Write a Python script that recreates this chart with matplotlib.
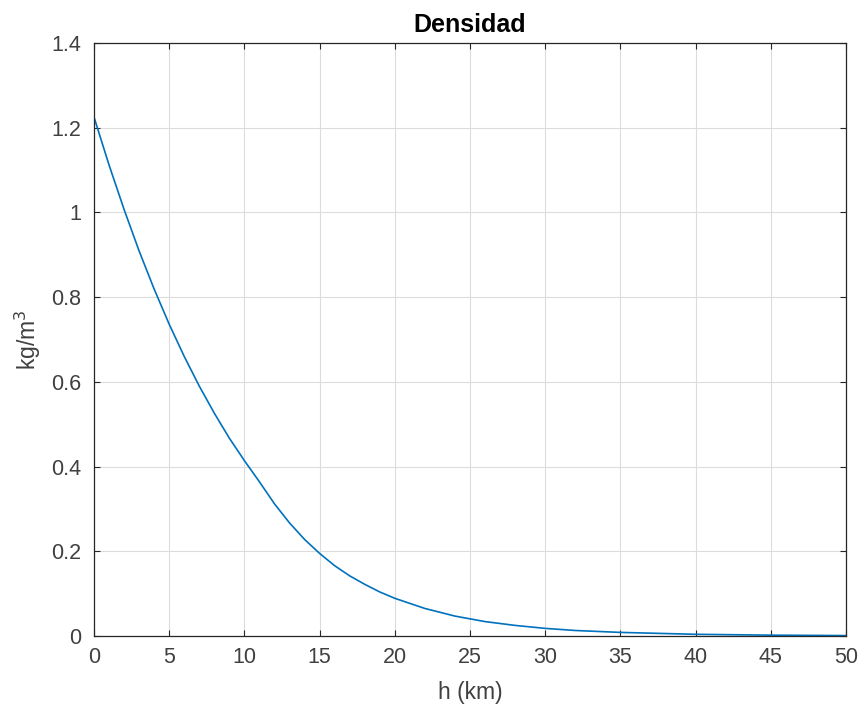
import matplotlib
matplotlib.use("Agg")
import matplotlib.pyplot as plt

# Standard atmosphere density
altura_km = [0, 1, 2, 3, 4, 5, 6, 7, 8, 9, 10, 11, 12, 13, 14, 15, 16, 17, 18, 19, 20,
             22, 24, 26, 28, 30, 32, 35, 40, 45, 50]
densidad = [1.225, 1.112, 1.007, 0.909, 0.819, 0.736, 0.660, 0.590, 0.526, 0.467, 0.414,
            0.364, 0.312, 0.267, 0.228, 0.195, 0.166, 0.142, 0.122, 0.104, 0.089,
            0.065, 0.047, 0.034, 0.025, 0.018, 0.013, 0.0085, 0.004, 0.002, 0.001]

x_ticks = list(range(0, 51, 5))
y_ticks = [0, 0.2, 0.4, 0.6, 0.8, 1.0, 1.2, 1.4]
y_tick_labels = ["0", "0.2", "0.4", "0.6", "0.8", "1", "1.2", "1.4"]

plt.rcParams['font.family'] = ['Liberation Sans', 'DejaVu Sans']

fig = plt.figure(figsize=(8.62, 7.17), dpi=100)
ax = fig.add_axes([94 / 862, 1 - 636 / 717, (846 - 94) / 862, (636 - 43) / 717])

ax.plot(altura_km, densidad, color='#0072BD', linewidth=1.2)

ax.set_xlim(0, 50)
ax.set_ylim(0, 1.4)
ax.set_xticks(x_ticks)
ax.set_yticks(y_ticks)
ax.set_yticklabels(y_tick_labels)
ax.grid(True, color='#dcdcdc', linewidth=0.8)
ax.set_axisbelow(True)
ax.tick_params(direction='in', top=True, right=True, length=4, width=0.8,
               labelsize=15.5, colors='#262626', labelcolor='#404040')
ax.tick_params(axis='y', pad=9)
ax.tick_params(axis='x', pad=8)
for s in ax.spines.values():
    s.set_color('#262626')
    s.set_linewidth(0.9)

ax.set_title('Densidad', fontsize=18, fontweight='bold', pad=8)
ax.set_xlabel('h (km)', fontsize=16.5, color='#404040', labelpad=9)
ax.set_ylabel('kg/m$^3$', fontsize=16.5, color='#404040', labelpad=6)

fig.savefig('out.png', dpi=100)
